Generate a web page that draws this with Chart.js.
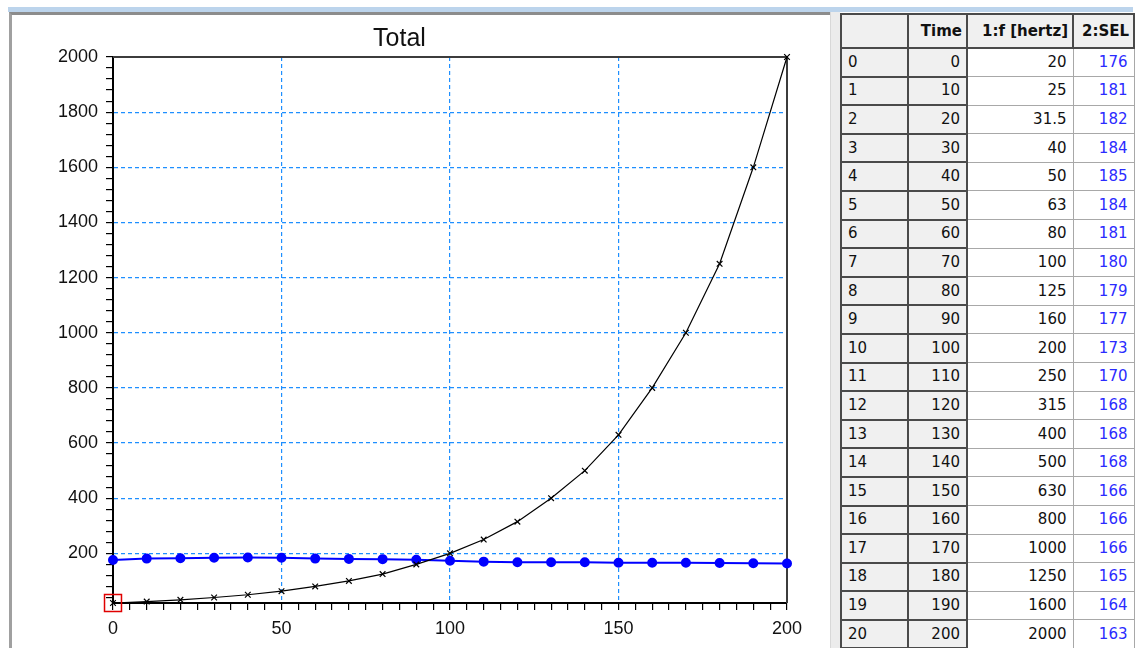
<!DOCTYPE html>
<html>
<head>
<meta charset="utf-8">
<script src="https://cdn.jsdelivr.net/npm/chart.js@4.4.1/dist/chart.umd.min.js"></script>
<style>
  body { margin: 0; background: #ffffff; width: 1136px; height: 648px; overflow: hidden; position: relative; }
  #topband { position: absolute; left: 8px; top: 7px; width: 1125px; height: 5px; background: #bcd4ec; }
  #panel { position: absolute; left: 9px; top: 12px; width: 821px; height: 636px; border-left: 3px solid #a0a0a0; border-top: 3px solid #8c8c8c; background: #fff; box-sizing: border-box; }
  #chartbox { position: absolute; left: 12px; top: 15px; width: 818px; height: 633px; }
  #splitter { position: absolute; left: 830px; top: 12px; width: 10px; height: 636px; background: #ececec; border-left: 1px solid #d8d8d8; box-sizing: border-box; }
  #grid { position: absolute; left: 840px; top: 13px; border-collapse: collapse; font-family: "DejaVu Sans", sans-serif; font-size: 15px; color: #111; }
  #grid th, #grid td { padding: 0 6px; white-space: nowrap; line-height: 1; }
  #grid th { height: 32px; background: #f0f0f0; border: 2px solid #4a4a4a; font-weight: bold; text-align: right; padding: 0 4px; }
  #grid td { height: 26.6px; }
  #grid td.idx { background: #f0f0f0; border: 2px solid #4a4a4a; text-align: left; }
  #grid td.tm { background: #f0f0f0; border: 2px solid #4a4a4a; text-align: right; }
  #grid td.val { background: #fff; border: 1px solid #a8a8a8; text-align: right; }
  #grid td.sel { color: #2b2bff; }
</style>
</head>
<body>
<div id="topband"></div>
<div id="panel"></div>
<div id="chartbox"><canvas id="totalChart"></canvas></div>
<div id="splitter"></div>
<table id="grid">
  <colgroup><col style="width:67px"><col style="width:59px"><col style="width:106px"><col style="width:61px"></colgroup>
  <thead><tr><th></th><th>Time</th><th>1:f [hertz]</th><th>2:SEL</th></tr></thead>
  <tbody id="gridBody"></tbody>
</table>

<script>
// Chart data
var times = [0, 10, 20, 30, 40, 50, 60, 70, 80, 90, 100, 110, 120, 130, 140, 150, 160, 170, 180, 190, 200];
var freq = [20, 25, 31.5, 40, 50, 63, 80, 100, 125, 160, 200, 250, 315, 400, 500, 630, 800, 1000, 1250, 1600, 2000];
var sel = [176, 181, 182, 184, 185, 184, 181, 180, 179, 177, 173, 170, 168, 168, 168, 166, 166, 166, 165, 164, 163];

// Axis ticks
var xLabels = [0, 50, 100, 150, 200];
var yLabels = [200, 400, 600, 800, 1000, 1200, 1400, 1600, 1800, 2000];
var xMinorStep = 5;
var yMinorStep = 40;
var yMin = 20;
var yMax = 2000;

var gridBlue = "#1e8fff";

// Fill the table on the right
document.addEventListener("DOMContentLoaded", function () {
  var body = document.getElementById("gridBody");
  for (var i = 0; i < times.length; i++) {
    var tr = document.createElement("tr");
    tr.innerHTML =
      '<td class="idx">' + i + "</td>" +
      '<td class="tm">' + times[i] + "</td>" +
      '<td class="val">' + freq[i] + "</td>" +
      '<td class="val sel">' + sel[i] + "</td>";
    body.appendChild(tr);
  }
});

function minorTicks(from, to, step) {
  var list = [];
  for (var v = from; v <= to + 1e-9; v += step) list.push({ value: v });
  return list;
}

// Frame on the top and right of the plot
var framePlugin = {
  id: "frame",
  beforeDatasetsDraw: function (chart) {
    var a = chart.chartArea;
    var ctx = chart.ctx;
    ctx.save();
    ctx.strokeStyle = "#3c3c3c";
    ctx.lineWidth = 2;
    ctx.beginPath();
    ctx.moveTo(a.left, a.top);
    ctx.lineTo(a.right, a.top);
    ctx.lineTo(a.right, a.bottom);
    ctx.stroke();
    ctx.restore();
  }
};

document.addEventListener("DOMContentLoaded", function () {
  var ctx = document.getElementById("totalChart").getContext("2d");

  var fPoints = times.map(function (t, i) { return { x: t, y: freq[i] }; });
  var selPoints = times.map(function (t, i) { return { x: t, y: sel[i] }; });

  new Chart(ctx, {
    type: "line",
    data: {
      datasets: [
        {
          label: "marker",
          data: [{ x: times[0], y: freq[0] }],
          showLine: false,
          pointStyle: "rect",
          pointRadius: 12,
          pointBorderColor: "#e00000",
          pointBackgroundColor: "rgba(0,0,0,0)",
          pointBorderWidth: 1.5,
          clip: false
        },
        {
          label: "1:f [hertz]",
          data: fPoints,
          borderColor: "#000000",
          borderWidth: 1.2,
          tension: 0,
          pointStyle: "crossRot",
          pointRadius: 4,
          pointBorderColor: "#000000",
          pointBorderWidth: 1.2,
          clip: false
        },
        {
          label: "2:SEL",
          data: selPoints,
          borderColor: "#0000ff",
          borderWidth: 2,
          tension: 0,
          pointStyle: "circle",
          pointRadius: 4,
          pointBackgroundColor: "#0000ff",
          pointBorderColor: "#0000ff",
          clip: false
        }
      ]
    },
    options: {
      responsive: true,
      maintainAspectRatio: false,
      animation: false,
      layout: { padding: { left: 0, right: 43, top: 0, bottom: 0 } },
      plugins: {
        legend: { display: false },
        tooltip: { enabled: false },
        title: {
          display: true,
          text: "Total",
          color: "#111",
          font: { family: "Liberation Sans", size: 25, weight: "normal" },
          padding: { top: 9, bottom: 3 }
        }
      },
      scales: {
        x: {
          type: "linear",
          min: 0,
          max: 200,
          afterBuildTicks: function (scale) {
            scale.ticks = minorTicks(0, 200, xMinorStep);
          },
          afterFit: function (scale) { scale.height = 45; },
          ticks: {
            autoSkip: false,
            maxRotation: 0,
            padding: 8,
            color: "#111",
            font: { family: "Liberation Sans", size: 18 },
            callback: function (v) { return xLabels.indexOf(v) >= 0 ? String(v) : ""; }
          },
          grid: {
            tickLength: 7,
            tickColor: "#000",
            tickWidth: 1.2,
            lineWidth: 1.2,
            color: function (c) {
              var v = c.tick ? c.tick.value : null;
              return xLabels.indexOf(v) > 0 && v < 200 ? gridBlue : "rgba(0,0,0,0)";
            }
          },
          border: { color: "#000", width: 2, dash: [4, 3] }
        },
        y: {
          type: "linear",
          min: yMin,
          max: yMax,
          afterBuildTicks: function (scale) {
            scale.ticks = minorTicks(yMinorStep, yMax, yMinorStep);
          },
          afterFit: function (scale) { scale.width = 101; },
          ticks: {
            autoSkip: false,
            padding: 8,
            color: "#111",
            font: { family: "Liberation Sans", size: 18 },
            callback: function (v) { return yLabels.indexOf(v) >= 0 ? String(v) : ""; }
          },
          grid: {
            tickLength: 7,
            tickColor: "#000",
            tickWidth: 1.2,
            lineWidth: 1.2,
            color: function (c) {
              var v = c.tick ? c.tick.value : null;
              return yLabels.indexOf(v) >= 0 && v < yMax ? gridBlue : "rgba(0,0,0,0)";
            }
          },
          border: { color: "#000", width: 2, dash: [4, 3] }
        }
      }
    },
    plugins: [framePlugin]
  });
});
</script>
</body>
</html>
